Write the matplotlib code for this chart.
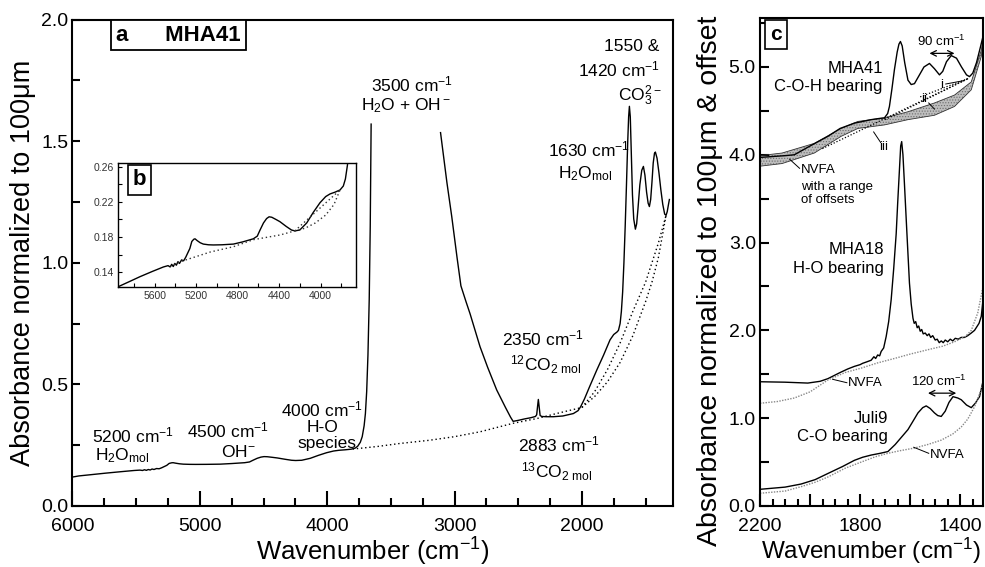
import matplotlib.pyplot as plt
from matplotlib.ticker import MultipleLocator, FuncFormatter

plt.rcParams['font.family'] = ['Liberation Sans', 'DejaVu Sans']
plt.rcParams['mathtext.fontset'] = 'custom'
plt.rcParams['mathtext.rm'] = 'Liberation Sans'
plt.rcParams['mathtext.it'] = 'Liberation Sans:italic'
plt.rcParams['mathtext.bf'] = 'Liberation Sans:bold'
plt.rcParams['mathtext.default'] = 'regular'
plt.rcParams['hatch.linewidth'] = 0.5

# ---- panel a / b : MHA41 full spectrum ----
wn_nir = [6000, 5950, 5850, 5740, 5620, 5515, 5470, 5450, 5435, 5420, 5405, 5390, 5375,
          5360, 5340, 5320, 5300, 5284, 5260, 5241, 5222, 5210, 5190, 5160, 5130, 5080,
          5033, 4950, 4840, 4750, 4648, 4610, 4583, 4550, 4520, 4496, 4470, 4430, 4392,
          4330, 4280, 4248, 4200, 4133, 4070, 4005, 3950, 3908, 3860, 3812, 3780, 3760,
          3740, 3725, 3710, 3700, 3690, 3680, 3670, 3662, 3655]
ab_nir = [0.119, 0.1236, 0.129, 0.135, 0.141, 0.146, 0.1475, 0.146, 0.149, 0.1465, 0.150,
          0.148, 0.152, 0.150, 0.154, 0.153, 0.157, 0.161, 0.167, 0.175, 0.1775, 0.178,
          0.176, 0.1735, 0.172, 0.1712, 0.171, 0.1712, 0.172, 0.1745, 0.178, 0.181, 0.188,
          0.196, 0.201, 0.203, 0.2025, 0.200, 0.1975, 0.192, 0.188, 0.187, 0.188, 0.196,
          0.208, 0.219, 0.226, 0.229, 0.231, 0.2335, 0.238, 0.246, 0.262, 0.285, 0.33,
          0.38, 0.47, 0.62, 0.85, 1.15, 1.57]

wn_mir = [3110, 3060, 3022, 2980, 2950, 2910, 2878, 2800, 2740, 2669, 2600, 2560, 2540,
          2500, 2450, 2400, 2365, 2355, 2348, 2342, 2336, 2328, 2315, 2280, 2224, 2150,
          2067, 2030, 2010, 1980, 1940, 1883, 1830, 1779, 1750, 1725, 1713, 1700, 1690,
          1680, 1670, 1660, 1650, 1640, 1633, 1627, 1620, 1612, 1603, 1593, 1580, 1570,
          1560, 1545, 1530, 1517, 1505, 1492, 1480, 1470, 1460, 1450, 1440, 1430, 1423,
          1410, 1395, 1380, 1365, 1350, 1339, 1330, 1320, 1313]
ab_mir = [1.535, 1.33, 1.19, 1.02, 0.905, 0.84, 0.79, 0.655, 0.57, 0.477, 0.405, 0.365,
          0.348, 0.352, 0.358, 0.363, 0.368, 0.375, 0.41, 0.438, 0.41, 0.372, 0.368, 0.367,
          0.367, 0.37, 0.38, 0.392, 0.408, 0.44, 0.49, 0.559, 0.62, 0.683, 0.705, 0.715,
          0.722, 0.75, 0.80, 0.88, 1.0, 1.15, 1.32, 1.50, 1.60, 1.643, 1.60, 1.45, 1.28,
          1.18, 1.138, 1.16, 1.22, 1.32, 1.38, 1.396, 1.36, 1.29, 1.245, 1.231, 1.26, 1.33,
          1.41, 1.45, 1.455, 1.43, 1.37, 1.30, 1.24, 1.20, 1.195, 1.21, 1.24, 1.26]

wn_base = [3800, 3600, 3430, 3200, 3000, 2800, 2540, 2350, 2200, 2000]
ab_base = [0.234, 0.245, 0.257, 0.27, 0.285, 0.305, 0.34, 0.36, 0.38, 0.405]
wn_base_carb = [2000, 1900, 1800, 1700, 1600, 1500, 1450, 1400, 1339]
ab_base_hi = [0.405, 0.47, 0.56, 0.67, 0.80, 0.92, 1.00, 1.08, 1.195]
ab_base_lo = [0.405, 0.45, 0.51, 0.59, 0.70, 0.84, 0.92, 1.02, 1.195]

# inset baselines
wn_ib = [5450, 5352, 5063, 4840, 4648, 4388, 4248]
ab_ib = [0.147, 0.152, 0.163, 0.169, 0.177, 0.1824, 0.187]
wn_ib_hi = [4248, 3812]
ab_ib_hi = [0.187, 0.2335]
wn_ib_lo = [4248, 4150, 4050, 3950, 3870, 3812]
ab_ib_lo = [0.187, 0.190, 0.196, 0.205, 0.217, 0.2335]

# ---- panel c ----
wn_41 = [2200, 2150, 2100, 2063, 2000, 1929, 1880, 1823, 1756, 1720, 1703, 1690, 1683,
         1673, 1663, 1652, 1645, 1639, 1632, 1622, 1609, 1596, 1583, 1565, 1545, 1523,
         1503, 1483, 1470, 1455, 1436, 1415, 1395, 1375, 1363, 1350, 1335, 1320, 1309]
ab_41 = [3.97, 3.98, 3.99, 4.0, 4.1, 4.21, 4.30, 4.36, 4.40, 4.415, 4.42, 4.47, 4.55,
         4.75, 4.97, 5.17, 5.26, 5.29, 5.24, 5.05, 4.85, 4.80, 4.81, 4.90, 5.00, 5.04,
         4.98, 4.91, 4.95, 5.06, 5.13, 5.10, 5.00, 4.91, 4.89, 4.93, 5.05, 5.22, 5.35]

wn_band = [2200, 2112, 1983, 1876, 1809, 1703, 1609, 1503, 1423, 1356, 1316, 1309]
band_top = [3.99, 4.02, 4.13, 4.30, 4.38, 4.42, 4.49, 4.59, 4.68, 4.83, 5.19, 5.32]
band_bot = [3.87, 3.90, 4.02, 4.21, 4.30, 4.34, 4.40, 4.45, 4.55, 4.74, 5.12, 5.28]

wn_18 = [2200, 2100, 2009, 1960, 1929, 1880, 1850, 1823, 1800, 1790, 1775, 1756, 1745,
         1738, 1730, 1722, 1716, 1706, 1696, 1686, 1676, 1666, 1656, 1650, 1643, 1638,
         1634, 1629, 1623, 1613, 1603, 1596, 1589, 1584, 1578, 1572, 1566, 1560, 1554,
         1548, 1540, 1532, 1525, 1518, 1510, 1500, 1492, 1484, 1476, 1468, 1460, 1450,
         1440, 1430, 1420, 1408, 1396, 1383, 1370, 1356, 1343, 1325, 1316, 1309]
ab_18 = [1.415, 1.41, 1.40, 1.42, 1.45, 1.52, 1.56, 1.59, 1.61, 1.625, 1.64, 1.66, 1.70,
         1.68, 1.72, 1.71, 1.76, 1.80, 1.93, 2.1, 2.35, 2.7, 3.1, 3.45, 3.83, 4.1, 4.15,
         4.0, 3.67, 3.1, 2.54, 2.3, 2.14, 2.08, 2.1, 2.03, 2.05, 1.99, 2.01, 1.96, 1.97,
         1.94, 1.96, 1.92, 1.94, 1.89, 1.90, 1.86, 1.88, 1.86, 1.89, 1.87, 1.90, 1.88,
         1.91, 1.90, 1.92, 1.92, 1.94, 1.97, 2.0, 2.08, 2.16, 2.35]
wn_18n = [2200, 2130, 2063, 2000, 1929, 1860, 1796, 1730, 1663, 1600, 1529, 1470, 1423,
          1380, 1356, 1330, 1316, 1309]
ab_18n = [1.17, 1.19, 1.23, 1.30, 1.435, 1.52, 1.57, 1.63, 1.68, 1.73, 1.78, 1.82, 1.87,
          1.93, 2.0, 2.2, 2.4, 2.5]

wn_j9 = [2200, 2100, 2036, 1980, 1929, 1870, 1823, 1790, 1756, 1720, 1689, 1660, 1630,
         1609, 1590, 1569, 1550, 1536, 1520, 1503, 1490, 1476, 1460, 1445, 1429, 1410,
         1396, 1375, 1356, 1340, 1323, 1309]
ab_j9 = [0.19, 0.215, 0.25, 0.30, 0.37, 0.45, 0.52, 0.555, 0.58, 0.60, 0.62, 0.70, 0.80,
         0.87, 0.96, 1.06, 1.12, 1.14, 1.11, 1.06, 1.03, 1.02, 1.08, 1.18, 1.245, 1.23,
         1.21, 1.15, 1.12, 1.17, 1.245, 1.42]
wn_j9n = [2200, 2100, 2036, 1980, 1929, 1860, 1796, 1740, 1689, 1640, 1583, 1530, 1476,
          1430, 1396, 1370, 1343, 1320, 1309]
ab_j9n = [0.145, 0.17, 0.22, 0.27, 0.33, 0.43, 0.50, 0.56, 0.60, 0.63, 0.66, 0.70, 0.75,
          0.82, 0.90, 0.99, 1.13, 1.30, 1.40]

LBL = 'Wavenumber (cm$^{-1}$)'
dot = (0, (1, 2))

fig = plt.figure(figsize=(9.85, 5.67), dpi=100)
ax = fig.add_axes([0.0736, 0.1076, 0.6096, 0.858])
axb = fig.add_axes([0.1201, 0.4944, 0.2413, 0.2176])
axc = fig.add_axes([0.7716, 0.1076, 0.2264, 0.861])

# ---------------- panel a ----------------
ax.plot(wn_nir, ab_nir, color='black', lw=1)
ax.plot(wn_mir, ab_mir, color='black', lw=1)
ax.plot(wn_base, ab_base, color='black', lw=1, ls=dot)
ax.plot(wn_base_carb, ab_base_hi, color='black', lw=1, ls=dot)
ax.plot(wn_base_carb, ab_base_lo, color='black', lw=1, ls=dot)
ax.set_xlim(6000, 1285)
ax.set_ylim(0, 2.0)
ax.xaxis.set_major_locator(MultipleLocator(1000))
ax.xaxis.set_minor_locator(MultipleLocator(250))
ax.yaxis.set_major_locator(MultipleLocator(0.5))
ax.yaxis.set_minor_locator(MultipleLocator(0.25))
ax.yaxis.set_major_formatter(FuncFormatter(lambda v, p: '%.1f' % v))
ax.tick_params(axis='x', which='major', direction='in', length=11, width=1.5, labelsize=14, pad=9)
ax.tick_params(axis='x', which='minor', direction='in', length=6, width=1.5)
ax.tick_params(axis='y', which='both', direction='in', length=6, width=1.5, labelsize=14, pad=3)
for s in ax.spines.values():
    s.set_linewidth(1.5)
ax.set_xlabel(LBL, fontsize=18.5, labelpad=0)
ax.set_ylabel('Absorbance normalized to 100μm', fontsize=19.5, labelpad=4)

ax.text(0.073, 0.968, 'a      MHA41', transform=ax.transAxes, fontsize=16, fontweight='bold',
        va='center', ha='left',
        bbox=dict(boxstyle='square,pad=0.22', fc='white', ec='black', lw=1.3))

fs = 12.5
ax.text(3330, 1.735, '3500 cm$^{-1}$', ha='center', va='center', fontsize=fs)
ax.text(3381, 1.645, 'H$_2$O + OH$^-$', ha='center', va='center', fontsize=fs)
ax.text(1390, 1.89, '1550 &', ha='right', va='center', fontsize=fs)
ax.text(1390, 1.795, '1420 cm$^{-1}$', ha='right', va='center', fontsize=fs)
ax.text(1375, 1.685, 'CO$_3^{2-}$', ha='right', va='center', fontsize=fs)
ax.text(2264, 1.464, '1630 cm$^{-1}$', ha='left', va='center', fontsize=fs)
ax.text(2187, 1.365, 'H$_2$O$_{mol}$', ha='left', va='center', fontsize=fs)
ax.text(2309, 0.69, '2350 cm$^{-1}$', ha='center', va='center', fontsize=fs)
ax.text(2285, 0.58, '$^{12}$CO$_{2\\ mol}$', ha='center', va='center', fontsize=fs)
ax.text(2183, 0.255, '2883 cm$^{-1}$', ha='center', va='center', fontsize=fs)
ax.text(2195, 0.139, '$^{13}$CO$_{2\\ mol}$', ha='center', va='center', fontsize=fs)
ax.text(5521, 0.29, '5200 cm$^{-1}$', ha='center', va='center', fontsize=fs)
ax.text(5823, 0.205, 'H$_2$O$_{mol}$', ha='left', va='center', fontsize=fs)
ax.text(4775, 0.31, '4500 cm$^{-1}$', ha='center', va='center', fontsize=fs)
ax.text(4696, 0.221, 'OH$^{-}$', ha='center', va='center', fontsize=fs)
ax.text(4044, 0.395, '4000 cm$^{-1}$', ha='center', va='center', fontsize=fs)
ax.text(4040, 0.322, 'H-O', ha='center', va='center', fontsize=fs)
ax.text(4001, 0.258, 'species', ha='center', va='center', fontsize=fs)

# ---------------- inset b ----------------
axb.set_facecolor('white')
axb.plot(wn_nir, ab_nir, color='black', lw=1)
axb.plot(wn_ib, ab_ib, color='#333333', lw=1, ls=dot)
axb.plot(wn_ib_hi, ab_ib_hi, color='#333333', lw=1, ls=dot)
axb.plot(wn_ib_lo, ab_ib_lo, color='#333333', lw=1, ls=dot)
axb.set_xlim(5950, 3658)
axb.set_ylim(0.1236, 0.2638)
axb.xaxis.set_minor_locator(MultipleLocator(200))
axb.yaxis.set_minor_locator(MultipleLocator(0.02))
axb.set_yticks([0.14, 0.18, 0.22, 0.26])
axb.yaxis.set_major_formatter(FuncFormatter(lambda v, p: '%.2f' % v))
axb.set_xticks([5600, 5200, 4800, 4400, 4000])
axb.tick_params(which='both', direction='in', length=3, width=0.8, labelsize=7.5,
                labelcolor='#333333', pad=3)
for s in axb.spines.values():
    s.set_linewidth(1)
axb.text(0.06, 0.865, 'b', transform=axb.transAxes, fontsize=16, fontweight='bold',
         va='center', ha='left',
         bbox=dict(boxstyle='square,pad=0.2', fc='white', ec='black', lw=1.2))

# ---------------- panel c ----------------
axc.fill_between(wn_band, band_bot, band_top, facecolor='#bdbdbd', edgecolor='#6e6e6e',
                 hatch='......', lw=0)
axc.plot(wn_band, band_top, color='#333333', lw=0.6)
axc.plot(wn_band, band_bot, color='#333333', lw=0.6)
axc.plot(wn_41, ab_41, color='black', lw=1)
axc.plot([1951, 1367], [4.07, 4.87], color='black', lw=0.9, ls=(0, (1, 1.5)))
axc.plot([1700, 1367], [4.40, 4.87], color='black', lw=0.9, ls=(0, (1, 1.5)))
axc.plot([1560, 1367], [4.66, 4.87], color='black', lw=0.9, ls=(0, (1, 1.5)))

axc.plot(wn_18, ab_18, color='black', lw=1)
axc.plot(wn_18n, ab_18n, color='#888888', lw=1, ls=(0, (1, 1)))
axc.plot(wn_j9, ab_j9, color='black', lw=1)
axc.plot(wn_j9n, ab_j9n, color='#888888', lw=1, ls=(0, (1, 1)))

axc.set_xlim(2200, 1309)
axc.set_ylim(0, 5.56)
axc.xaxis.set_major_locator(MultipleLocator(200))
axc.xaxis.set_minor_locator(MultipleLocator(50))
axc.xaxis.set_major_formatter(FuncFormatter(lambda v, p: '%d' % v if round(v) % 400 == 200 else ''))
axc.yaxis.set_major_locator(MultipleLocator(0.5))
axc.yaxis.set_major_formatter(FuncFormatter(lambda v, p: '%.1f' % v if abs(v - round(v)) < 1e-6 else ''))
axc.tick_params(axis='x', which='major', direction='in', length=8.5, width=1.5, labelsize=14, pad=9)
axc.tick_params(axis='x', which='minor', direction='in', length=5, width=1.5)
axc.tick_params(axis='y', which='major', direction='in', length=6.5, width=1.5, labelsize=14, pad=3)
for s in axc.spines.values():
    s.set_linewidth(1.5)
axc.set_xlabel(LBL, fontsize=17.5, labelpad=0)
axc.set_ylabel('Absorbance normalized to 100μm & offset', fontsize=20.5)
axc.yaxis.set_label_coords(-0.165, 0.462)

axc.text(0.045, 0.966, 'c', transform=axc.transAxes, fontsize=15, fontweight='bold',
         va='center', ha='left',
         bbox=dict(boxstyle='square,pad=0.25', fc='white', ec='black', lw=1.2))

fc = 12
axc.text(1710, 4.985, 'MHA41', ha='right', va='center', fontsize=fc)
axc.text(1710, 4.776, 'C-O-H bearing', ha='right', va='center', fontsize=fc)
axc.text(1706, 2.916, 'MHA18', ha='right', va='center', fontsize=fc)
axc.text(1706, 2.707, 'H-O bearing', ha='right', va='center', fontsize=fc)
axc.text(1688, 0.999, 'Juli9', ha='right', va='center', fontsize=fc)
axc.text(1688, 0.789, 'C-O bearing', ha='right', va='center', fontsize=fc)

fn = 9.5
axc.text(2036, 3.827, 'NVFA', ha='left', va='center', fontsize=fn)
axc.text(2036, 3.637, 'with a range', ha='left', va='center', fontsize=fn)
axc.text(2036, 3.485, 'of offsets', ha='left', va='center', fontsize=fn)
axc.plot([2042, 2082], [3.846, 3.95], color='black', lw=0.7)
axc.text(1849, 1.397, 'NVFA', ha='left', va='center', fontsize=fn)
axc.plot([1853, 1910], [1.404, 1.443], color='black', lw=0.7)
axc.text(1520, 0.58, 'NVFA', ha='left', va='center', fontsize=fn)
axc.plot([1526, 1586], [0.60, 0.669], color='black', lw=0.7)

axc.text(1473, 4.795, 'i', ha='center', va='center', fontsize=fn)
axc.plot([1458, 1387], [4.806, 4.844], color='black', lw=0.7)
axc.text(1546, 4.632, 'ii', ha='center', va='center', fontsize=fn)
axc.plot([1526, 1503], [4.59, 4.52], color='black', lw=0.7)
axc.text(1705, 4.085, 'iii', ha='center', va='center', fontsize=fn)
axc.plot([1718, 1746], [4.14, 4.26], color='black', lw=0.7)

axc.text(1476, 5.29, '90 cm$^{-1}$', ha='center', va='center', fontsize=fn)
axc.annotate('', xy=(1423, 5.155), xytext=(1523, 5.155),
             arrowprops=dict(arrowstyle='<->', lw=0.9, color='black', shrinkA=0, shrinkB=0))
axc.text(1486, 1.416, '120 cm$^{-1}$', ha='center', va='center', fontsize=fn)
axc.annotate('', xy=(1416, 1.285), xytext=(1529, 1.285),
             arrowprops=dict(arrowstyle='<->', lw=0.9, color='black', shrinkA=0, shrinkB=0))

fig.savefig('out.png', dpi=100)
